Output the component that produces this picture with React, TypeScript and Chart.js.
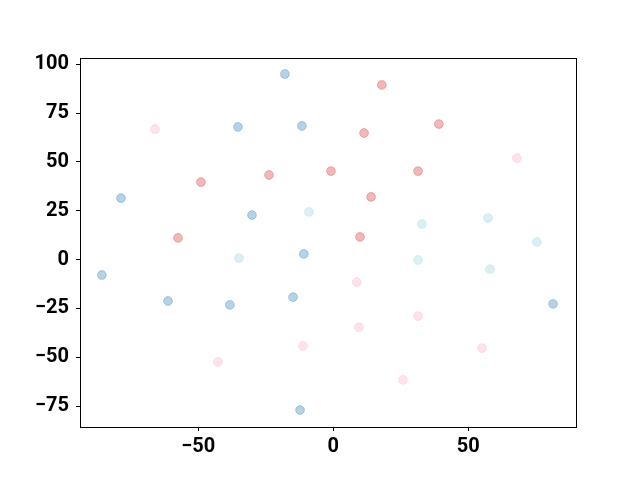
import React, { useEffect, useRef } from "react";
import { Chart, registerables } from "chart.js";

Chart.register(...registerables);

const blueX = [-17.9, -35.3, -11.6, -78.6, -30.1, -10.9, -85.7, -61.2, -38.3, -14.9, -12.3, 81.4];
const blueY = [95.0, 67.9, 68.4, 31.5, 22.8, 2.9, -7.9, -21.2, -23.2, -19.2, -77.0, -22.7];

const redX = [18.0, 39.1, 11.4, -0.85, 31.4, -23.8, -49.0, 14.0, 9.9, -57.5];
const redY = [89.4, 69.4, 64.8, 45.3, 45.3, 43.3, 39.7, 32.1, 11.6, 11.1];

const pinkX = [-66.0, 68.0, 8.7, 9.5, 31.4, -11.2, -42.7, 55.1, 25.8];
const pinkY = [66.8, 52.0, -11.5, -34.6, -28.9, -44.2, -52.4, -45.3, -61.6];

const cyanX = [-9.0, 32.8, 57.3, 75.4, -34.9, 31.4, 58.0];
const cyanY = [24.4, 18.2, 21.3, 9.0, 0.8, -0.2, -4.9];

const toPoints = (xs: number[], ys: number[]) => xs.map((x, i) => ({ x, y: ys[i] }));

const frame = {
  id: "frame",
  afterDraw(chart: any) {
    const { ctx, chartArea } = chart;
    ctx.save();
    ctx.strokeStyle = "#000";
    ctx.lineWidth = 1;
    ctx.strokeRect(
      Math.round(chartArea.left) + 0.5,
      Math.round(chartArea.top) + 0.5,
      Math.round(chartArea.right - chartArea.left),
      Math.round(chartArea.bottom - chartArea.top)
    );
    ctx.restore();
  },
};

export default function App() {
  const ref = useRef<HTMLCanvasElement>(null);
  useEffect(() => {
    if (!ref.current) return;
    const font = { family: "Roboto", size: 20, weight: "bold" as const };
    const fmt = (v: any) => String(v).replace("-", "\u2212");
    const ds = (xs: number[], ys: number[], fill: string, border: string) => ({
      data: toPoints(xs, ys),
      backgroundColor: fill,
      borderColor: border,
      borderWidth: 1,
      pointRadius: 4.4,
    });
    const chart = new Chart(ref.current, {
      type: "scatter",
      data: {
        datasets: [
          ds(blueX, blueY, "rgba(31,119,180,0.33)", "rgba(31,119,180,0.3)"),
          ds(redX, redY, "rgba(214,39,40,0.33)", "rgba(214,39,40,0.3)"),
          ds(pinkX, pinkY, "rgba(255,182,203,0.4)", "rgba(255,170,195,0.3)"),
          ds(cyanX, cyanY, "rgba(173,222,232,0.45)", "rgba(160,215,228,0.35)"),
        ],
      },
      options: {
        animation: false,
        responsive: false,
        maintainAspectRatio: false,
        layout: { padding: { left: 0, top: 58, right: 64, bottom: 0 } },
        plugins: { legend: { display: false }, tooltip: { enabled: false } },
        scales: {
          x: {
            type: "linear",
            min: -93.8,
            max: 89.9,
            afterFit: (s: any) => {
              s.height = 53;
            },
            border: { display: true, color: "#000", width: 1 },
            grid: { display: true, drawOnChartArea: false, drawTicks: true, tickLength: 4, color: "#000" },
            ticks: { stepSize: 50, includeBounds: false, color: "#000", font, padding: 4, maxRotation: 0, callback: fmt },
          },
          y: {
            type: "linear",
            min: -85.7,
            max: 103.2,
            afterFit: (s: any) => {
              s.width = 80;
            },
            border: { display: true, color: "#000", width: 1 },
            grid: { display: true, drawOnChartArea: false, drawTicks: true, tickLength: 4, color: "#000" },
            ticks: { stepSize: 25, includeBounds: false, color: "#000", font, padding: 7, callback: fmt },
          },
        },
      },
      plugins: [frame],
    });
    return () => chart.destroy();
  }, []);
  return (
    <div style={{ position: "fixed", left: 0, top: 0, width: 640, height: 480, background: "#fff" }}>
      <canvas ref={ref} width={640} height={480} style={{ width: 640, height: 480 }} />
    </div>
  );
}
